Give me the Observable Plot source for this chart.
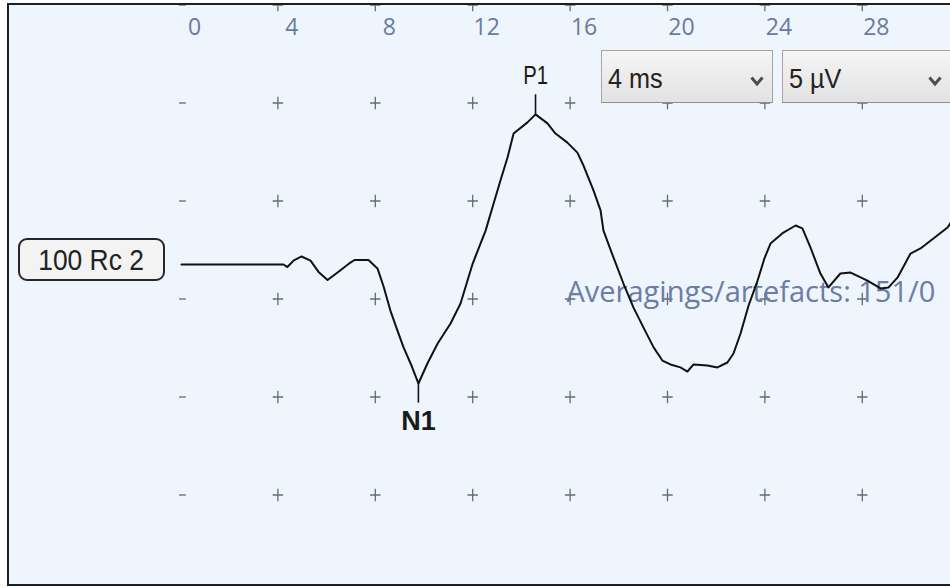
<!DOCTYPE html>
<html><head><meta charset="utf-8">
<script src="https://cdn.jsdelivr.net/npm/d3@7"></script>
<script src="https://cdn.jsdelivr.net/npm/@observablehq/plot@0.6"></script>
<style>
html,body{margin:0;padding:0;background:#fff;}
#wrap{position:relative;width:950px;height:588px;overflow:hidden;background:#fff;}
#frame{position:absolute;left:7px;top:3px;width:1000px;height:579px;border:2px solid #1f1f1f;background:#eef5fc;}
#chart{position:absolute;left:0;top:0;}
#chart svg{display:block;clip-path:inset(5px 0 5px 9px);}
.lbl{position:absolute;left:18px;top:238px;width:143px;height:39px;border:2px solid #262626;border-radius:9px;background:#f3f3f3;font:30px "Liberation Sans",Arial,sans-serif;color:#222;display:flex;align-items:center;justify-content:center;}
.lbl span{display:inline-block;transform:scaleX(0.88);}
.dd{position:absolute;top:50px;height:53px;border:1px solid #a5a5a5;border-bottom-color:#8e8e8e;background:linear-gradient(#f5f5f5,#e2e2e2);box-sizing:border-box;display:flex;align-items:center;}
.dd span{display:inline-block;margin-left:6px;margin-top:4px;font:28px "Liberation Sans",Arial,sans-serif;color:#222;transform:scaleX(0.9);transform-origin:left center;}
.dd svg{position:absolute;top:25px;}
</style>
</head><body>
<div id="wrap">
  <div id="frame"></div>
  <div id="chart"></div>
  <div class="lbl"><span>100 Rc 2</span></div>
  <div class="dd" style="left:601px;width:172px;"><span>4 ms</span><svg width="14" height="10" style="left:148px"><polyline points="1.5,1.5 7,8 12.5,1.5" fill="none" stroke="#4d4d4d" stroke-width="3"/></svg></div>
  <div class="dd" style="left:782px;width:172px;"><span>5 µV</span><svg width="14" height="10" style="left:145px"><polyline points="1.5,1.5 7,8 12.5,1.5" fill="none" stroke="#4d4d4d" stroke-width="3"/></svg></div>
</div>
<script>
// ---- data (ms, µV: 4 ms and 5 µV per division) ----
const traceMs = [0.04,4.23,4.39,4.64,4.97,5.34,5.67,6.04,6.45,6.98,7.15,7.72,8.09,8.34,8.62,8.91,9.16,9.45,9.77,10.14,10.56,11.09,11.50,11.75,12.00,12.53,12.81,13.14,13.43,13.68,14.25,14.58,15.07,15.40,15.89,16.30,16.55,16.96,17.25,17.37,17.78,18.19,18.60,19.01,19.43,19.79,20.12,20.53,20.82,21.07,21.64,22.05,22.46,22.71,23.00,23.33,23.70,23.98,24.23,24.76,25.26,25.54,25.87,26.28,26.61,27.10,27.52,28.21,28.75,29.08,29.45,29.98,30.39,30.92,31.50,31.70];
const traceUv = [1.76,1.76,1.63,1.96,2.17,1.96,1.38,0.97,1.35,1.86,1.99,1.99,1.56,0.64,-0.59,-1.61,-2.47,-3.29,-4.31,-3.29,-2.27,-1.25,-0.23,0.79,1.81,3.49,4.67,6.05,7.22,8.44,9.01,9.42,8.96,8.44,7.98,7.47,6.81,5.54,4.52,3.49,2.12,0.79,-0.43,-1.45,-2.47,-3.14,-3.34,-3.49,-3.70,-3.34,-3.39,-3.49,-3.24,-2.78,-1.76,-0.33,0.94,2.07,2.83,3.39,3.75,3.60,2.63,1.30,0.59,1.30,1.35,0.94,0.54,0.59,1.10,2.32,2.58,3.09,3.65,4.01];
const gridMs = [0,4,8,12,16,20,24,28,32];
const gridUv = [15,10,5,0,-5,-10];
const tickMs = [0,4,8,12,16,20,24,28];
const tickLabels = ["0","4","8","12","16","20","24","28"];
const peakNames = ["N1","P1"];
const peakMs = [9.77,14.58];
const peakUv = [-4.31,9.42];
const infoText = "Averagings/artefacts: 151/0";

// ---- build ----
const W = 950, H = 588;
const x0px = 180, pxPerMs = 24.35, y0px = 298.5, pxPerUv = 19.6;
const trace = traceMs.map((x,i)=>({x, y: traceUv[i]}));
const crosses = [];
gridMs.forEach(x => gridUv.forEach(y => crosses.push({x, y})));
const ticks = tickMs.map((x,i)=>({x, label: tickLabels[i]}));
const peaks = peakNames.map((name,i)=>({name, ms: peakMs[i], uv: peakUv[i]}));

const plusSym = {draw(ctx, size){ const r = Math.sqrt(size/Math.PI); ctx.moveTo(-r,0); ctx.lineTo(r,0); ctx.moveTo(0,-r*1.2); ctx.lineTo(0,r*1.2); }};
const minusSym = {draw(ctx, size){ const r = Math.sqrt(size/Math.PI); ctx.moveTo(-r,0); ctx.lineTo(r,0); }};

const plot = Plot.plot({
  width: W, height: H, margin: 0,
  x: {domain: [-x0px/pxPerMs, (W-x0px)/pxPerMs], axis: null},
  y: {domain: [(y0px-H)/pxPerUv, y0px/pxPerUv], axis: null},
  style: {background: "transparent", overflow: "visible"},
  marks: [
    Plot.dot(crosses.filter(d=>d.x===gridMs[0]), {x:"x", y:"y", r:3.5, symbol: minusSym, stroke:"#646c76", fill:"none", strokeWidth:1.3, dx:2}),
    Plot.dot(crosses.filter(d=>d.x!==gridMs[0]), {x:"x", y:"y", r:5.2, symbol: plusSym, stroke:"#646c76", fill:"none", strokeWidth:1.3}),
    Plot.text(ticks, {x:"x", y: gridUv[0], text:"label", dx:14, dy:23, fill:"#6a7a9e", fontSize:23, fontFamily:"'Open Sans', sans-serif"}),
    Plot.text([infoText], {frameAnchor:"top-left", text: d=>d, dx:566, dy:281, textAnchor:"start", fill:"#6b7ca5", fontSize:29, fontFamily:"'Open Sans', sans-serif"}),
    Plot.line(trace, {x:"x", y:"y", stroke:"#111", strokeWidth:2}),
    Plot.ruleX(peaks, {x:"ms", y1:"uv", y2: d => d.uv + (d.uv > 0 ? 1 : -1), stroke:"#111", strokeWidth:1.6}),
    Plot.text(peaks.filter(d=>d.uv>0), {x:"ms", y:"uv", text:"name", dy:-39, fill:"#1a1a1a", fontSize:26, fontFamily:"'Liberation Sans', Arial, sans-serif", className:"narrowlab"}),
    Plot.text(peaks.filter(d=>d.uv<0), {x:"ms", y:"uv", text:"name", dy:38, fill:"#1a1a1a", fontSize:27, fontWeight:"bold", fontFamily:"'Liberation Sans', Arial, sans-serif"})
  ]
});
document.getElementById("chart").appendChild(plot);
d3.select(plot).selectAll(".narrowlab text").each(function(){
  const t = this.getAttribute("transform");
  if (t) this.setAttribute("transform", t + " scale(0.78,1)");
  else {
    const x = this.getAttribute("x") || 0, y = this.getAttribute("y") || 0;
    this.removeAttribute("x"); this.removeAttribute("y");
    this.setAttribute("transform", `translate(${x},${y}) scale(0.78,1)`);
  }
});
</script>
</body></html>
